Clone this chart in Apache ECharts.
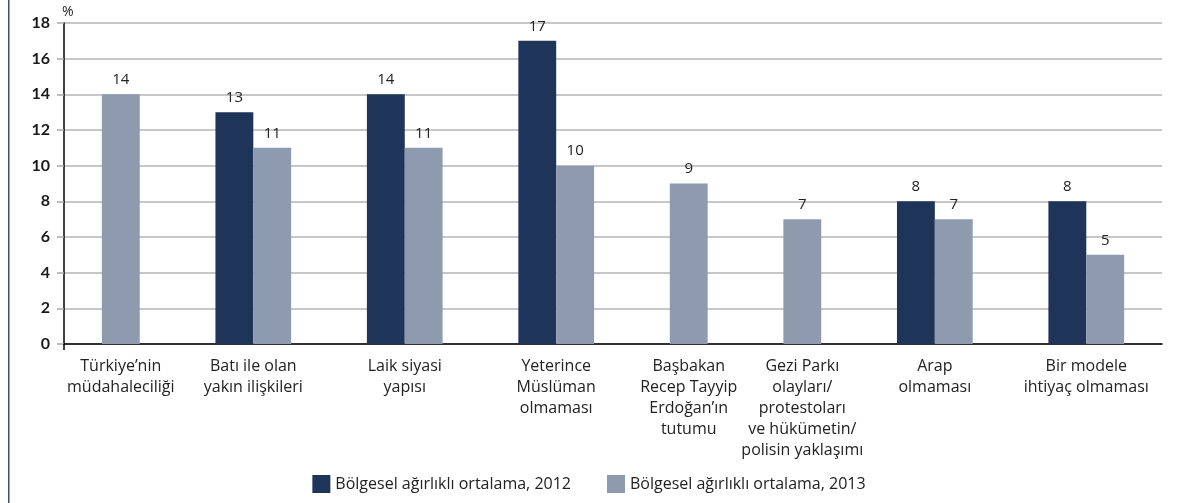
<!DOCTYPE html>
<html lang="tr">
<head>
    <meta charset="UTF-8">
    <title>Bölgesel ağırlıklı ortalama</title>
    <style>
        html, body { margin: 0; padding: 0; background: #fff; }
        .chart { width: 1178px; height: 503px; }
    </style>
    <script src="https://cdn.jsdelivr.net/npm/echarts@6/dist/echarts.min.js"></script>
</head>
<body>
    <div class="chart"></div>
    <script>
        // kategoriler (satır sonlarıyla)
        var categories = [
            'Türkiye’nin\nmüdahaleciliği',
            'Batı ile olan\nyakın ilişkileri',
            'Laik siyasi\nyapısı',
            'Yeterince\nMüslüman\nolmaması',
            'Başbakan\nRecep Tayyip\nErdoğan’ın\ntutumu',
            'Gezi Parkı\nolayları/\nprotestoları\nve hükümetin/\npolisin yaklaşımı',
            'Arap\nolmaması',
            'Bir modele\nihtiyaç olmaması'
        ];
        var seriesNames = ['Bölgesel ağırlıklı ortalama, 2012', 'Bölgesel ağırlıklı ortalama, 2013'];
        var values2012 = [null, 13, 14, 17, null, null, 8, 8];
        var values2013 = [14, 11, 11, 10, 9, 7, 7, 5];
        var yTicks = [0, 2, 4, 6, 8, 10, 12, 14, 16, 18];

        var colors = ['#1e3458', '#8e9aae'];

        // boş değerler yer kaplamasın: her kategori çubuk sayısı kadar yer alır, aralarında 2 birim boşluk
        var allValues = [values2012, values2013];
        var barData = [[], []];
        var labelData = [];
        var cursor = 1;
        categories.forEach(function (name, i) {
            var start = cursor;
            allValues.forEach(function (vals, s) {
                if (vals[i] != null) {
                    barData[s].push([cursor, vals[i]]);
                    cursor += 1;
                }
            });
            labelData.push([(start + cursor) / 2, 0, name]);
            cursor += 2;
        });
        var xMax = cursor - 1;

        function renderBar(params, api) {
            var x = api.value(0);
            var v = api.value(1);
            var p0 = api.coord([x, 0]);
            var p1 = api.coord([x + 1, v]);
            return {
                type: 'group',
                children: [
                    {
                        type: 'rect',
                        shape: { x: p0[0], y: p1[1], width: p1[0] - p0[0], height: p0[1] - p1[1] },
                        style: { fill: api.visual('color') }
                    },
                    {
                        type: 'text',
                        style: {
                            text: String(v),
                            x: (p0[0] + p1[0]) / 2,
                            y: p1[1] - 7,
                            textAlign: 'center',
                            textVerticalAlign: 'bottom',
                            fontFamily: 'Open Sans',
                            fontSize: 15,
                            fill: '#222'
                        }
                    }
                ]
            };
        }

        function renderLabel(params, api) {
            var p = api.coord([api.value(0), 0]);
            return {
                type: 'text',
                style: {
                    text: labelData[params.dataIndex][2],
                    x: p[0],
                    y: p[1] + 12,
                    textAlign: 'center',
                    textVerticalAlign: 'top',
                    fontFamily: 'Open Sans',
                    fontSize: 16,
                    lineHeight: 21,
                    fill: '#222'
                }
            };
        }

        var option = {
            animation: false,
            color: colors,
            grid: { left: 64, right: 16, top: 23, bottom: 159 },
            legend: {
                data: seriesNames,
                left: 'center',
                bottom: 5,
                icon: 'rect',
                itemWidth: 18,
                itemHeight: 18,
                itemGap: 36,
                textStyle: { fontFamily: 'Open Sans', fontSize: 16, color: '#222' }
            },
            xAxis: {
                type: 'value',
                min: 0,
                max: xMax,
                axisLine: { show: true, onZero: false, lineStyle: { color: '#000', width: 1.5 } },
                axisTick: { show: true, customValues: [0], length: 6, lineStyle: { color: '#000', width: 1.5 } },
                axisLabel: { show: false },
                splitLine: { show: false }
            },
            yAxis: {
                type: 'value',
                min: yTicks[0],
                max: yTicks[yTicks.length - 1],
                interval: yTicks[1] - yTicks[0],
                name: '%',
                nameLocation: 'end',
                nameGap: 4,
                nameTextStyle: { fontFamily: 'Open Sans', fontSize: 14, color: '#222', align: 'left', padding: [0, 0, 0, -2] },
                axisLine: { show: true, lineStyle: { color: '#000', width: 1.5 } },
                axisTick: { show: true, length: 7, lineStyle: { color: '#a8a8a8', width: 1.5 } },
                axisLabel: { fontFamily: 'Lato', fontWeight: 'bold', fontSize: 16, color: '#1a1a1a', margin: 14 },
                splitLine: { lineStyle: { color: '#b4b4b4', width: 1.5 } }
            },
            series: [
                { name: seriesNames[0], type: 'custom', renderItem: renderBar, data: barData[0], encode: { x: 0, y: 1 } },
                { name: seriesNames[1], type: 'custom', renderItem: renderBar, data: barData[1], encode: { x: 0, y: 1 } },
                { type: 'custom', renderItem: renderLabel, data: labelData, silent: true, encode: { x: 0, y: 1 } }
            ],
            graphic: [
                {
                    type: 'rect',
                    left: 8,
                    top: 0,
                    shape: { width: 1.5, height: 503 },
                    style: { fill: '#3a4f72' }
                }
            ]
        };

        var chart = echarts.init(document.querySelector('.chart'));
        chart.setOption(option);
    </script>
</body>
</html>
